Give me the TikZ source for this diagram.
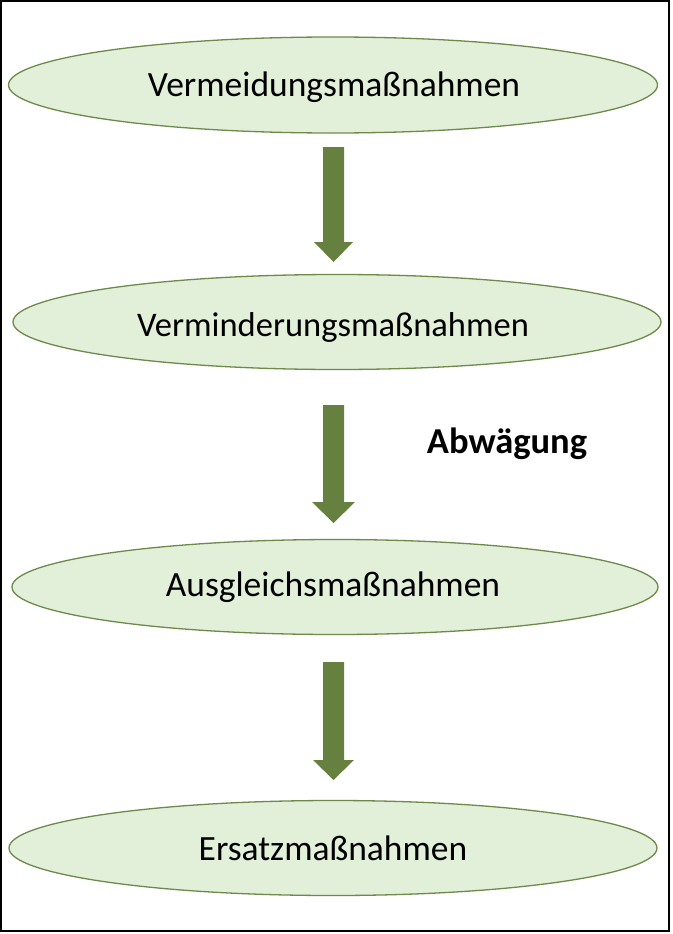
\documentclass[tikz,border=0pt]{standalone}
\usepackage{fontspec}
\setmainfont{Carlito}
\usetikzlibrary{shapes.geometric}
\definecolor{efill}{HTML}{E2EFD9}
\definecolor{eline}{HTML}{6E8A4A}
\definecolor{arrowc}{HTML}{66803F}
\tikzset{
  oval/.style={ellipse, draw=eline, line width=1.3pt, fill=efill, inner sep=0pt},
  otext/.style={font=\fontsize{35.5}{42}\selectfont, inner sep=0pt, anchor=base},
  bigarrow/.style={fill=arrowc, draw=none},
}
\begin{document}
\begin{tikzpicture}[x=1pt,y=-1pt]
\useasboundingbox (0,0) rectangle (672,934);
\draw[line width=2.2pt] (1.1,1.1) rectangle (669,931);
\node[oval, minimum width=649pt, minimum height=96pt] (e1) at (333,85) {};
\node[otext] (t1) at (334,96) {Vermeidungsmaßnahmen};
\node[oval, minimum width=648pt, minimum height=95pt] (e2) at (337,322) {};
\node[otext, font=\fontsize{34.5}{42}\selectfont] (t2) at (333,336) {Verminderungsmaßnahmen};
\node[oval, minimum width=646pt, minimum height=95pt] (e3) at (335,587) {};
\node[otext] (t3) at (333,596) {Ausgleichsmaßnahmen};
\node[oval, minimum width=648pt, minimum height=95pt] (e4) at (333,848) {};
\node[otext] (t4) at (333,860) {Ersatzmaßnahmen};
\node[font=\bfseries\fontsize{36.5}{42}\selectfont, inner sep=0pt, anchor=base] (abw) at (507,453) {Abwägung};
% arrows
\fill[bigarrow] (323,147) -- (344,147) -- (344,242) -- (353,242) -- (333.5,262) -- (314,242) -- (323,242) -- cycle;
\fill[bigarrow] (323,405) -- (344,405) -- (344,502) -- (355,502) -- (333.5,523) -- (312,502) -- (323,502) -- cycle;
\fill[bigarrow] (323,662) -- (344,662) -- (344,760) -- (354,760) -- (333.5,780) -- (313,760) -- (323,760) -- cycle;
\end{tikzpicture}
\end{document}
